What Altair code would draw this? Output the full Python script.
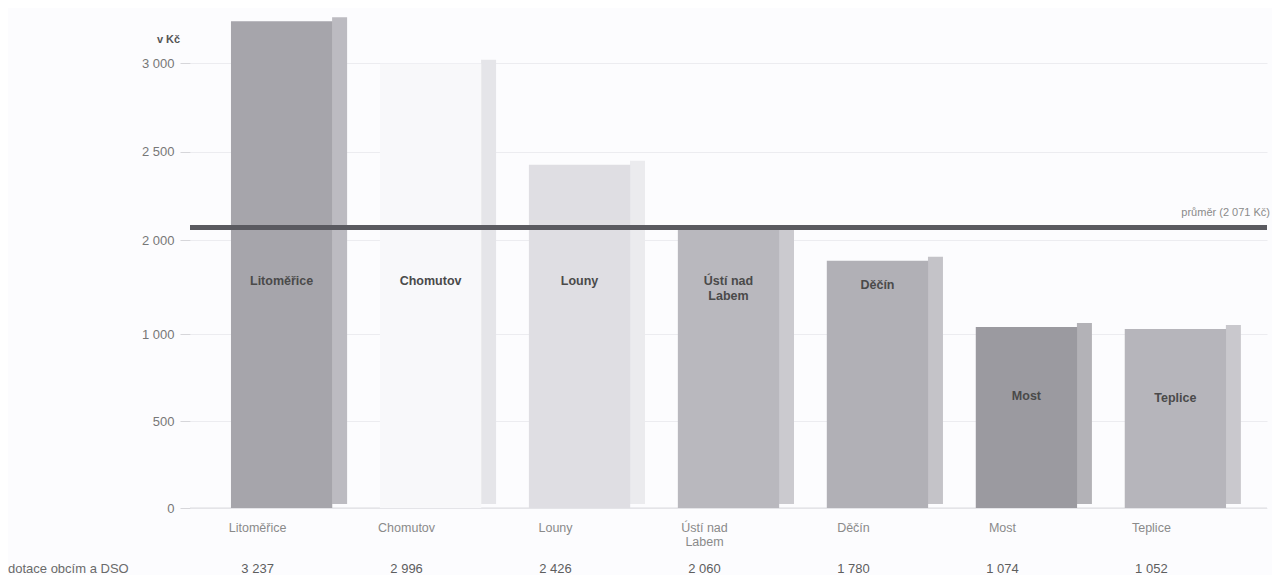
import altair as alt
import pandas as pd

# --- data ---------------------------------------------------------------
kraje = ["Litoměřice", "Chomutov", "Louny", "Ústí nad Labem", "Děčín", "Most", "Teplice"]
popisky = ["Litoměřice", "Chomutov", "Louny", "Ústí nad\nLabem", "Děčín", "Most", "Teplice"]
dotace = [3237, 2996, 2426, 2060, 1780, 1074, 1052]
barva_predni = ["#a6a5ab", "#f8f8fa", "#dfdee3", "#b9b8be", "#b1b0b6", "#9b9aa0", "#b6b5bb"]
barva_bok = ["#bcbbc1", "#e5e5e9", "#ebebee", "#cbcacf", "#c4c3c8", "#b3b2b7", "#c9c8cd"]
prumer = [2071]
prumer_text = ["průměr (2 071 Kč)"]
osa_y_hodnoty = [0, 500, 1000, 2000, 2500, 3000]
radek_nazev = ["dotace obcím a DSO"]

df = pd.DataFrame({
    "kraj": kraje,
    "popisek": popisky,
    "dotace": dotace,
    "predni": barva_predni,
    "bok": barva_bok,
})
df_avg = pd.DataFrame({"prumer": prumer, "text": prumer_text})

W, H = 1077, 498
FONT = "Liberation Sans"

x_enc = alt.X("kraj:N", sort=kraje,
              scale=alt.Scale(paddingInner=0.32, paddingOuter=0.275),
              axis=None)
y_scale = alt.Scale(domain=[0, 1000, 2000, 3300], range=[H, 324, 230, 0], nice=False)

base = alt.Chart(df)

bars = base.mark_bar().encode(
    x=x_enc,
    y=alt.Y("dotace:Q", scale=y_scale,
            axis=alt.Axis(values=osa_y_hodnoty,
                          labelExpr="replace(format(datum.value, ','), ',', ' ')",
                          labelColor="#777777", labelFontSize=13, labelFont=FONT,
                          labelPadding=6, tickSize=10, tickColor="#d6d6da",
                          domain=False, grid=True, gridColor="#ececf0",
                          title="v Kč", titleAngle=0, titleX=-22, titleY=34,
                          titleAlign="center", titleFontWeight="bold",
                          titleFontSize=11, titleColor="#555555", titleFont=FONT)),
    color=alt.Color("predni:N", scale=None),
)

sides = base.mark_bar(width=15, xOffset=58, yOffset=-4, y2Offset=4).encode(
    x=x_enc,
    y=alt.Y("dotace:Q", scale=y_scale),
    color=alt.Color("bok:N", scale=None),
)

inner_labels = base.transform_calculate(
    pos="datum.dotace > 1500 ? min(datum.dotace - 260, 1560) : datum.dotace * 0.6"
).mark_text(font=FONT, fontSize=12.5, fontWeight="bold", color="#4a4a4a",
            lineBreak="\n", lineHeight=15).encode(
    x=x_enc,
    y=alt.Y("pos:Q", scale=y_scale),
    text="popisek:N",
)

cat_labels = base.mark_text(font=FONT, fontSize=12.5, color="#8a8a8a",
                            lineBreak="\n", lineHeight=14, baseline="top",
                            dx=-24).encode(
    x=x_enc,
    y=alt.value(H + 14),
    text="popisek:N",
)

row_values = base.transform_calculate(
    t="replace(format(datum.dotace, ','), ',', ' ')"
).mark_text(font=FONT, fontSize=13, color="#5e5e5e", baseline="middle",
            dx=-24).encode(
    x=x_enc,
    y=alt.value(H + 61),
    text="t:N",
)

row_title = alt.Chart(pd.DataFrame({"t": radek_nazev})).mark_text(
    font=FONT, fontSize=13, color="#6a6a6a", align="left", baseline="middle"
).encode(
    x=alt.value(-182),
    y=alt.value(H + 61),
    text="t:N",
)

floor = alt.Chart(pd.DataFrame({"z": [0]})).mark_rule(color="#dcdce0", strokeWidth=1).encode(
    y=alt.Y("z:Q", scale=y_scale),
)

avg_line = alt.Chart(df_avg).mark_rule(color="#5a5a60", strokeWidth=5).encode(
    y=alt.Y("prumer:Q", scale=y_scale),
)
avg_text = alt.Chart(df_avg).mark_text(
    font=FONT, fontSize=11, color="#8a8a8a", align="right", baseline="bottom", dy=-9
).encode(
    x=alt.value(W + 3),
    y=alt.Y("prumer:Q", scale=y_scale),
    text="text:N",
)

chart = alt.layer(
    floor, sides, bars, inner_labels, avg_line, avg_text, cat_labels, row_values, row_title
).properties(
    width=W, height=H,
    autosize=alt.AutoSizeParams(type="none"),
    padding={"left": 182, "top": 2, "right": 5, "bottom": 67},
    background="#fcfcfe",
).configure_view(stroke=None)

chart.save("out.html", embed_options={"renderer": "svg", "actions": False})
